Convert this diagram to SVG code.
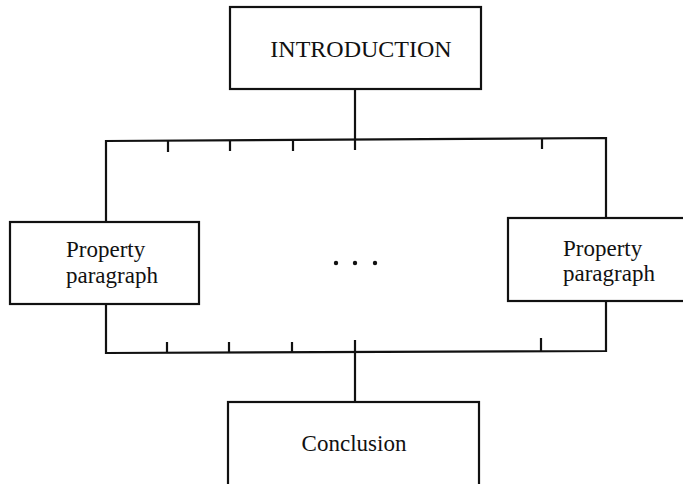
<svg xmlns="http://www.w3.org/2000/svg" width="683" height="484" viewBox="0 0 683 484">
<style>
.box{fill:#fff;stroke:#111;stroke-width:2.2}
.ln{fill:none;stroke:#111;stroke-width:2.2}
text{font-family:"Liberation Serif","Times New Roman",serif;font-size:23px;fill:#111}
.big{font-size:24px}
</style>
<rect width="683" height="484" fill="#fff"/>
<g id="connectors" class="ln">
<line x1="355" y1="89" x2="355" y2="140"/>
<polyline points="106,222 106,141 606,138 606,218"/>
<polyline points="106,304 106,353 606,351 606,301"/>
<line x1="355" y1="340" x2="355" y2="402"/>
<line x1="168" y1="141" x2="168" y2="152"/>
<line x1="230" y1="140" x2="230" y2="151"/>
<line x1="293" y1="140" x2="293" y2="151"/>
<line x1="355" y1="140" x2="355" y2="150"/>
<line x1="542" y1="138" x2="542" y2="149"/>
<line x1="167" y1="353" x2="167" y2="342"/>
<line x1="229" y1="353" x2="229" y2="342"/>
<line x1="292" y1="353" x2="292" y2="342"/>
<line x1="541" y1="351" x2="541" y2="338"/>
</g>
<g id="intro">
<rect class="box" x="230" y="7" width="251" height="82"/>
<text class="big" x="361" y="57" text-anchor="middle">INTRODUCTION</text>
</g>
<g id="left">
<rect class="box" x="10" y="222" width="189" height="82"/>
<text x="66" y="257">Property</text>
<text x="66" y="283">paragraph</text>
</g>
<g id="right">
<rect class="box" x="508" y="218" width="190" height="83"/>
<text x="563" y="256">Property</text>
<text x="563" y="281">paragraph</text>
</g>
<g id="dots" fill="#111">
<circle cx="336" cy="263" r="2.2"/>
<circle cx="355" cy="263" r="2.2"/>
<circle cx="375" cy="263" r="2.2"/>
</g>
<g id="conclusion">
<rect class="box" x="228" y="402" width="251" height="90"/>
<text x="354" y="451" text-anchor="middle">Conclusion</text>
</g>
</svg>
